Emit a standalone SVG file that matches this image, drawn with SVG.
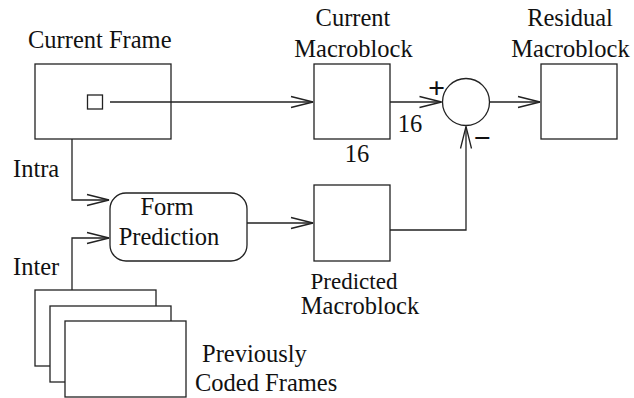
<svg xmlns="http://www.w3.org/2000/svg" width="634" height="398" viewBox="0 0 634 398">
<style>
.b{fill:#fff;stroke:#222;stroke-width:1.3}
.c{fill:none;stroke:#222;stroke-width:1.3}
text{font-family:"Liberation Serif","Times New Roman",serif;font-size:24.5px;fill:#111}
.m{text-anchor:middle}
.s{font-size:30px;font-weight:bold}
.p{font-size:23px}
</style>
<defs>
<marker id="a" markerUnits="userSpaceOnUse" markerWidth="24" markerHeight="12" refX="22" refY="6" orient="auto" overflow="visible">
<path d="M0,0.5 L22,6 L0,11.5" fill="none" stroke="#222" stroke-width="1.3"/>
</marker>
</defs>
<rect width="634" height="398" fill="#fff"/>
<g id="current-frame">
<rect class="b" x="35" y="64" width="136" height="75"/>
<rect class="b" x="87.5" y="95" width="15" height="14"/>
<text x="28" y="48">Current Frame</text>
</g>
<g id="current-mb">
<rect class="b" x="314" y="64" width="76" height="75"/>
<text class="m" x="353" y="26">Current</text>
<text class="m" x="353.5" y="57">Macroblock</text>
<text class="m" x="357" y="162">16</text>
<text class="m" x="410" y="132">16</text>
</g>
<g id="subtract">
<circle class="b" cx="466" cy="102" r="23.5"/>
<text class="m s" x="436.5" y="98">+</text>
<text class="m s" x="482" y="148">−</text>
</g>
<g id="residual-mb">
<rect class="b" x="541" y="64" width="76" height="75"/>
<text class="m" x="570" y="26">Residual</text>
<text class="m" x="570.5" y="57">Macroblock</text>
</g>
<g id="form-prediction">
<rect class="b" x="110" y="193" width="137" height="68" rx="16" ry="16"/>
<text class="m" x="167" y="215">Form</text>
<text class="m" x="169" y="245">Prediction</text>
</g>
<g id="predicted-mb">
<rect class="b" x="314" y="185" width="76" height="76"/>
<text class="m p" x="354" y="289">Predicted</text>
<text class="m" x="360" y="314">Macroblock</text>
</g>
<g id="previous-frames">
<rect class="b" x="35" y="290" width="121" height="76"/>
<rect class="b" x="50" y="306" width="121" height="76"/>
<rect class="b" x="65" y="321" width="121" height="76"/>
<text x="202" y="362">Previously</text>
<text x="195" y="391">Coded Frames</text>
</g>
<g id="labels">
<text x="13" y="177">Intra</text>
<text x="13" y="275">Inter</text>
</g>
<g id="connectors">
<path class="c" d="M110,102 H313" marker-end="url(#a)"/>
<path class="c" d="M390,102 H441.5" marker-end="url(#a)"/>
<path class="c" d="M489.5,102 H540" marker-end="url(#a)"/>
<path class="c" d="M72,139 V200 H109" marker-end="url(#a)"/>
<path class="c" d="M72,290 V238 H109" marker-end="url(#a)"/>
<path class="c" d="M247,223 H313" marker-end="url(#a)"/>
<path class="c" d="M390,230 H466 V126.5" marker-end="url(#a)"/>
</g>
</svg>
